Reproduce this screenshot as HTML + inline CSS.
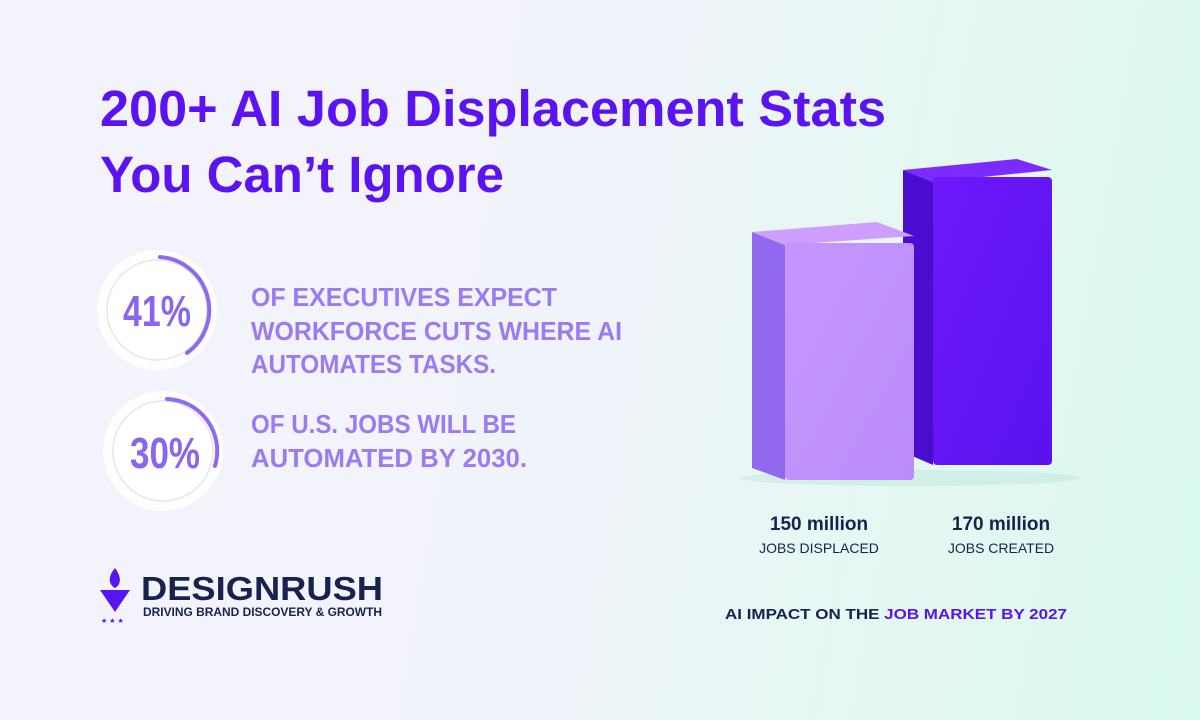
<!DOCTYPE html>
<html><head><meta charset="utf-8"><style>
html,body{margin:0;padding:0}
body{width:1200px;height:720px;overflow:hidden;background:linear-gradient(100deg,#f4f3fb 0%,#f1f3fb 45%,#e4f8f2 75%,#d9f9ec 100%);font-family:"Liberation Sans",sans-serif}
</style></head><body>
<svg width="1200" height="720" viewBox="0 0 1200 720" xmlns="http://www.w3.org/2000/svg" style="position:absolute;left:0;top:0">
<defs>
<linearGradient id="lf" x1="0" y1="0" x2="1" y2="1"><stop offset="0" stop-color="#c597fd"/><stop offset="1" stop-color="#bb8cfb"/></linearGradient>
<linearGradient id="rf" x1="0" y1="0" x2="1" y2="1"><stop offset="0" stop-color="#6d18fb"/><stop offset="1" stop-color="#5a12ee"/></linearGradient>
</defs>
<g font-family="Liberation Sans, sans-serif" font-weight="bold" fill="#5b14f1">
<text x="100" y="126" font-size="51" textLength="786" lengthAdjust="spacingAndGlyphs">200+ AI Job Displacement Stats</text>
<text x="100" y="192" font-size="51" textLength="404" lengthAdjust="spacingAndGlyphs">You Can’t Ignore</text>
</g>
<circle cx="157" cy="310" r="60" fill="#fff" opacity="0.85"/>
<circle cx="157" cy="310" r="50" fill="#fff" stroke="#e6e4ee" stroke-width="1.5"/>
<path d="M160 257 A53 53 0 0 1 187 353" fill="none" stroke="#8d6bf0" stroke-width="4" stroke-linecap="round"/>
<text x="157" y="326" font-size="44" font-weight="bold" fill="#8a66ee" text-anchor="middle" textLength="68" lengthAdjust="spacingAndGlyphs">41%</text>
<circle cx="163" cy="451" r="60" fill="#fff" opacity="0.85"/>
<circle cx="163" cy="451" r="50" fill="#fff" stroke="#e6e4ee" stroke-width="1.5"/>
<path d="M167 399 A52 52 0 0 1 215 466" fill="none" stroke="#8d6bf0" stroke-width="4" stroke-linecap="round"/>
<text x="165" y="468" font-size="44" font-weight="bold" fill="#8a66ee" text-anchor="middle" textLength="70" lengthAdjust="spacingAndGlyphs">30%</text>
<g font-size="26" fill="#9a7cf2" font-weight="bold">
<text x="251" y="306" textLength="306" lengthAdjust="spacingAndGlyphs">OF EXECUTIVES EXPECT</text>
<text x="251" y="340" textLength="371" lengthAdjust="spacingAndGlyphs">WORKFORCE CUTS WHERE AI</text>
<text x="251" y="373" textLength="245" lengthAdjust="spacingAndGlyphs">AUTOMATES TASKS.</text>
<text x="251" y="433" textLength="265" lengthAdjust="spacingAndGlyphs">OF U.S. JOBS WILL BE</text>
<text x="251" y="467" textLength="276" lengthAdjust="spacingAndGlyphs">AUTOMATED BY 2030.</text>
</g>
<path d="M100 590 L130 590 L115 612 Z" fill="#5b14f1"/>
<path d="M115 568 C108 576 108 584 115 588 C122 584 121 576 115 568 Z" fill="#5b14f1"/>
<text x="101" y="623" font-size="7" fill="#5b14f1">★ ★ ★</text>
<text x="141" y="600" font-size="33" font-weight="bold" fill="#18224f" textLength="242" lengthAdjust="spacingAndGlyphs">DESIGNRUSH</text>
<text x="143" y="616" font-size="12" font-weight="bold" fill="#18224f" textLength="239" lengthAdjust="spacingAndGlyphs">DRIVING BRAND DISCOVERY &amp; GROWTH</text>
<ellipse cx="910" cy="478" rx="170" ry="8" fill="#bfe6dc" opacity="0.5"/>
<polygon points="903,170 933,182 933,465 903,452" fill="#4a0ccf"/>
<polygon points="903,170 1017,159 1052,170 933,182" fill="#7a2cff"/>
<rect x="933" y="177" width="119" height="288" rx="4" fill="url(#rf)"/>
<polygon points="752,232 785,245 785,480 752,468" fill="#9168ee"/>
<polygon points="752,232 877,222 914,236 785,245" fill="#cf9fff"/>
<rect x="785" y="243" width="129" height="237" rx="4" fill="url(#lf)"/>
<g fill="#18224f" text-anchor="middle">
<text x="819" y="530" font-size="19" font-weight="bold">150 million</text>
<text x="819" y="553" font-size="14">JOBS DISPLACED</text>
<text x="1001" y="530" font-size="19" font-weight="bold">170 million</text>
<text x="1001" y="553" font-size="14">JOBS CREATED</text>
</g>
<text x="725" y="619" font-size="15" font-weight="bold" fill="#18224f" textLength="342" lengthAdjust="spacingAndGlyphs">AI IMPACT ON THE <tspan fill="#5b14f1">JOB MARKET BY 2027</tspan></text>
</svg>
</body></html>
